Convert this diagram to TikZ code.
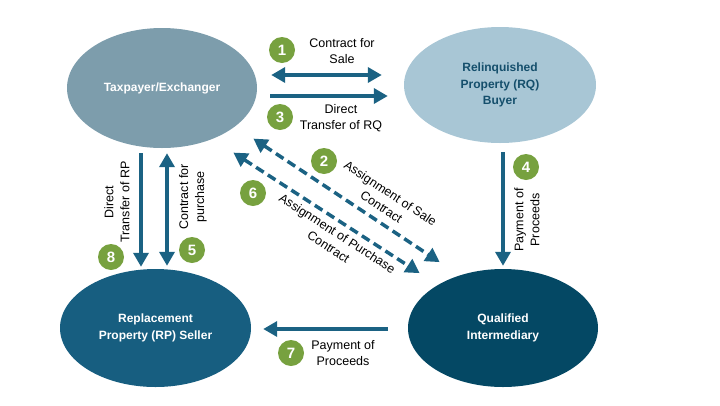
\documentclass[tikz,border=0pt]{standalone}
\usepackage{fontspec}
\setmainfont{Liberation Sans}
\usetikzlibrary{arrows.meta,shapes.geometric}

\definecolor{flowblue}{HTML}{1B6283}
\definecolor{badgegreen}{HTML}{77A13F}
\definecolor{taxfill}{HTML}{7D9DAC}
\definecolor{buyerfill}{HTML}{A8C6D5}
\definecolor{buyertext}{HTML}{154F6C}
\definecolor{sellerfill}{HTML}{175E80}
\definecolor{qifill}{HTML}{044864}

\begin{document}
\begin{tikzpicture}[x=1pt, y=-1pt,
    >={Triangle[length=14pt,width=15pt]},
    party/.style={ellipse, inner sep=0pt, align=center, text=white,
        font=\fontsize{12}{16.5}\selectfont\bfseries},
    badge/.style={circle, fill=badgegreen, minimum size=26pt, inner sep=0pt,
        text=white, font=\fontsize{15}{15}\selectfont\bfseries},
    lbl/.style={align=center, inner sep=0pt, font=\fontsize{12.5}{16}\selectfont},
    flow/.style={line width=3.5pt, flowblue},
    dashflow/.style={flow, dash pattern=on 9pt off 5pt}]

    \useasboundingbox (0,0) rectangle (720,405);

    %% Exchange diagram

    % Parties
    \node[party, fill=taxfill, minimum width=190pt, minimum height=120pt] (tp) at (162,88) {Taxpayer/Exchanger};
    \node[party, fill=buyerfill, text=buyertext, minimum width=192pt, minimum height=116pt] (rq) at (500,85)
        {Relinquished\\Property (RQ)\\Buyer};
    \node[party, fill=sellerfill, minimum width=191pt, minimum height=118pt] (rp) at (155.5,328)
        {Replacement\\Property (RP) Seller};
    \node[party, fill=qifill, minimum width=190pt, minimum height=118pt] (qi) at (503,328)
        {Qualified\\Intermediary};

    % Taxpayer and buyer
    \draw[flow, <->] ([xshift=14pt,yshift=13pt]tp.east) -- ([xshift=-22pt,yshift=10pt]rq.west);
    \node[badge] (b1) at (282,50) {1};
    \node[lbl] (l1) at (342,51) {Contract for\\Sale};

    \draw[flow, ->] ([xshift=13pt,yshift=-8pt]tp.east) -- ([xshift=-16pt,yshift=-11pt]rq.west);
    \node[badge] (b3) at (280,117) {3};
    \node[lbl] (l3) at (341,118) {Direct\\Transfer of RQ};

    % Assignments
    \draw[dashflow, <->] ([xshift=24pt,yshift=-8pt]tp.south east) -- ([xshift=4pt,yshift=24pt]qi.north west);
    \node[badge] (b2) at (324,161) {2};
    \node[lbl, rotate=-33.5] (l2) at (386,200) {Assignment of Sale\\Contract};

    \draw[dashflow, <->] ([xshift=4pt,yshift=-22pt]tp.south east) -- ([xshift=-16pt,yshift=13pt]qi.north west);
    \node[badge] (b6) at (253,193) {6};
    \node[lbl, rotate=-33] (l6) at (333,240) {Assignment of Purchase\\Contract};

    % Buyer pays intermediary
    \draw[flow, ->] ([xshift=3pt,yshift=-9pt]rq.south) -- ([yshift=3pt]qi.north);
    \node[badge] (b4) at (526,167) {4};
    \node[lbl, rotate=90] (l4) at (527,220) {Payment of\\Proceeds};

    % Taxpayer and seller
    \draw[flow, ->] ([xshift=-21pt,yshift=-5pt]tp.south) -- ([xshift=-14.5pt,yshift=2pt]rp.north);
    \node[badge] (b8) at (111,257) {8};
    \node[lbl, rotate=90] (l8) at (117,202) {Direct\\Transfer of RP};

    \draw[flow, <->] ([xshift=5pt,yshift=-5pt]tp.south) -- ([xshift=11.5pt,yshift=3pt]rp.north);
    \node[badge] (b5) at (192,250) {5};
    \node[lbl, rotate=90] (l5) at (193,197) {Contract for\\purchase};

    % Intermediary pays seller
    \draw[flow, ->] ([xshift=-20pt,yshift=-1pt]qi.west) -- ([xshift=12pt,yshift=-1pt]rp.east);
    \node[badge] (b7) at (291,353) {7};
    \node[lbl] (l7) at (343,353) {Payment of\\Proceeds};

\end{tikzpicture}
\end{document}
